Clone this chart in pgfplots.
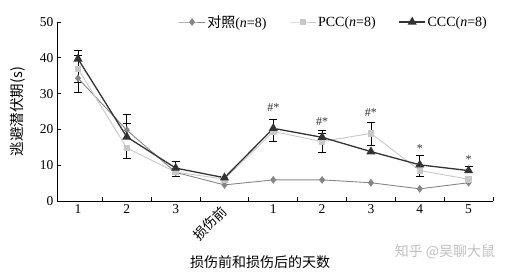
\documentclass[border=0pt]{standalone}
\usepackage{pgfplots}
\pgfplotsset{compat=1.18}
\usepackage{fontspec}
\setmainfont{Liberation Serif}
\newfontfamily\cjk{Noto Sans CJK SC}
\definecolor{cCtrl}{HTML}{858585}
\definecolor{cPCC}{HTML}{C8C8C8}
\definecolor{cCCC}{HTML}{333333}
\begin{document}
\begin{tikzpicture}
\begin{axis}[
  at={(57pt,76pt)}, anchor=south west,
  scale only axis, width=436pt, height=179pt,
  xmin=-0.43, xmax=8.5, ymin=0, ymax=50,
  axis x line*=bottom, axis y line*=left,
  axis line style={line width=0.8pt},
  xtick={0,...,8},
  xticklabels={1,2,3,{\makebox[0pt][r]{\rotatebox{45}{\cjk 损伤前}\hspace{-4pt}}},1,2,3,4,5},
  major x tick style={draw=none},
  minor xtick={0.5,1.5,...,8.5},
  minor tick length=4pt, major tick length=4pt,
  tick align=inside,
  tick style={black, line width=0.8pt},
  ytick={0,10,...,50},
  ticklabel style={font=\fontsize{13.5}{15}\selectfont},
  /pgf/number format/assume math mode=true,
  ylabel={\cjk 逃避潜伏期(s)},
  ylabel style={at={(axis description cs:-0.09,0.5)}, anchor=center, font=\fontsize{14.5}{16}\selectfont},
  xlabel={\cjk 损伤前和损伤后的天数},
  xlabel style={at={(axis description cs:0.466,-0.34)}, anchor=center, font=\fontsize{14}{16}\selectfont},
  legend columns=3,
  legend style={at={(0.635,1)}, anchor=center, draw=none, fill=none,
    font=\fontsize{14}{16}\selectfont,
    /tikz/every even column/.append style={column sep=21pt}},
  legend image code/.code={\draw[mark repeat=2,mark phase=2,#1] plot coordinates {(0cm,0cm) (0.45cm,0cm) (0.9cm,0cm)};},
]
% error bars (plus)
\addplot[draw=none, forget plot, mark=none,
  error bars/.cd, y dir=plus, y explicit,
  error bar style={black, line width=0.8pt},
  error mark options={rotate=90, mark size=4pt, black, line width=0.8pt}]
  coordinates {
  (0,39.7) +- (0,2.5)
  (0,36.9) +- (0,3.9)
  (1,19.8) +- (0,4.5)
  (1,17.9) +- (0,3.9)
  (2,9.2) +- (0,1.8)
  (3,6.5) +- (0,0.5)
  (4,20.3) +- (0,2.6)
  (5,17.8) +- (0,2.0)
  (5,16.6) +- (0,2.3)
  (6,18.9) +- (0,3.0)
  (7,10.1) +- (0,2.5)
  (8,8.5) +- (0,1.3)
  };
% error bars (minus)
\addplot[draw=none, forget plot, mark=none,
  error bars/.cd, y dir=minus, y explicit,
  error bar style={black, line width=0.8pt},
  error mark options={rotate=90, mark size=4pt, black, line width=0.8pt}]
  coordinates {
  (0,34.3) +- (0,4.0)
  (0,36.9) +- (0,3.9)
  (1,14.8) +- (0,2.8)
  (2,8.1) +- (0,1.3)
  (4,19.4) +- (0,2.8)
  (5,16.6) +- (0,3.0)
  (6,18.9) +- (0,3.3)
  (7,8.5) +- (0,1.7)
  };
% Control
\addplot[color=cCtrl, line width=0.9pt, mark=diamond*, mark size=3.2pt, mark options={fill=cCtrl, draw=cCtrl}]
  coordinates {(0,34.3) (1,19.8) (2,8.0) (3,4.5) (4,5.9) (5,5.9) (6,5.1) (7,3.4) (8,5.1)};
\addlegendentry{\cjk 对照\rmfamily(\textit{n}=8)}
% PCC
\addplot[color=cPCC, line width=0.9pt, mark=square*, mark size=2.8pt, mark options={fill=cPCC, draw=cPCC}]
  coordinates {(0,36.9) (1,14.8) (2,8.1) (3,6.1) (4,19.4) (5,16.6) (6,18.9) (7,8.5) (8,6.1)};
\addlegendentry{PCC(\textit{n}=8)}
% CCC
\addplot[color=cCCC, line width=1.3pt, mark=triangle*, mark size=4pt, mark options={fill=cCCC, draw=cCCC}]
  coordinates {(0,39.7) (1,17.9) (2,9.2) (3,6.5) (4,20.3) (5,17.8) (6,13.8) (7,10.1) (8,8.5)};
\addlegendentry{CCC(\textit{n}=8)}
% significance marks
\node[font=\fontsize{12}{13}\selectfont, text=cCCC] at (axis cs:4,26) {\#*};
\node[font=\fontsize{12}{13}\selectfont, text=cCCC] at (axis cs:5,22.3) {\#*};
\node[font=\fontsize{12}{13}\selectfont, text=cCCC] at (axis cs:6,24.8) {\#*};
\node[font=\fontsize{12}{13}\selectfont, text=cCCC] at (axis cs:7,14.6) {*};
\node[font=\fontsize{12}{13}\selectfont, text=cCCC] at (axis cs:8,11.6) {*};
\end{axis}
\node[text=black!25, font=\fontsize{14}{16}\selectfont] at (445pt,25pt) {\cjk 知乎 @吴聊大鼠};
\pgfresetboundingbox
\path[use as bounding box] (0,0) rectangle (505pt,277pt);
\end{tikzpicture}
\end{document}
